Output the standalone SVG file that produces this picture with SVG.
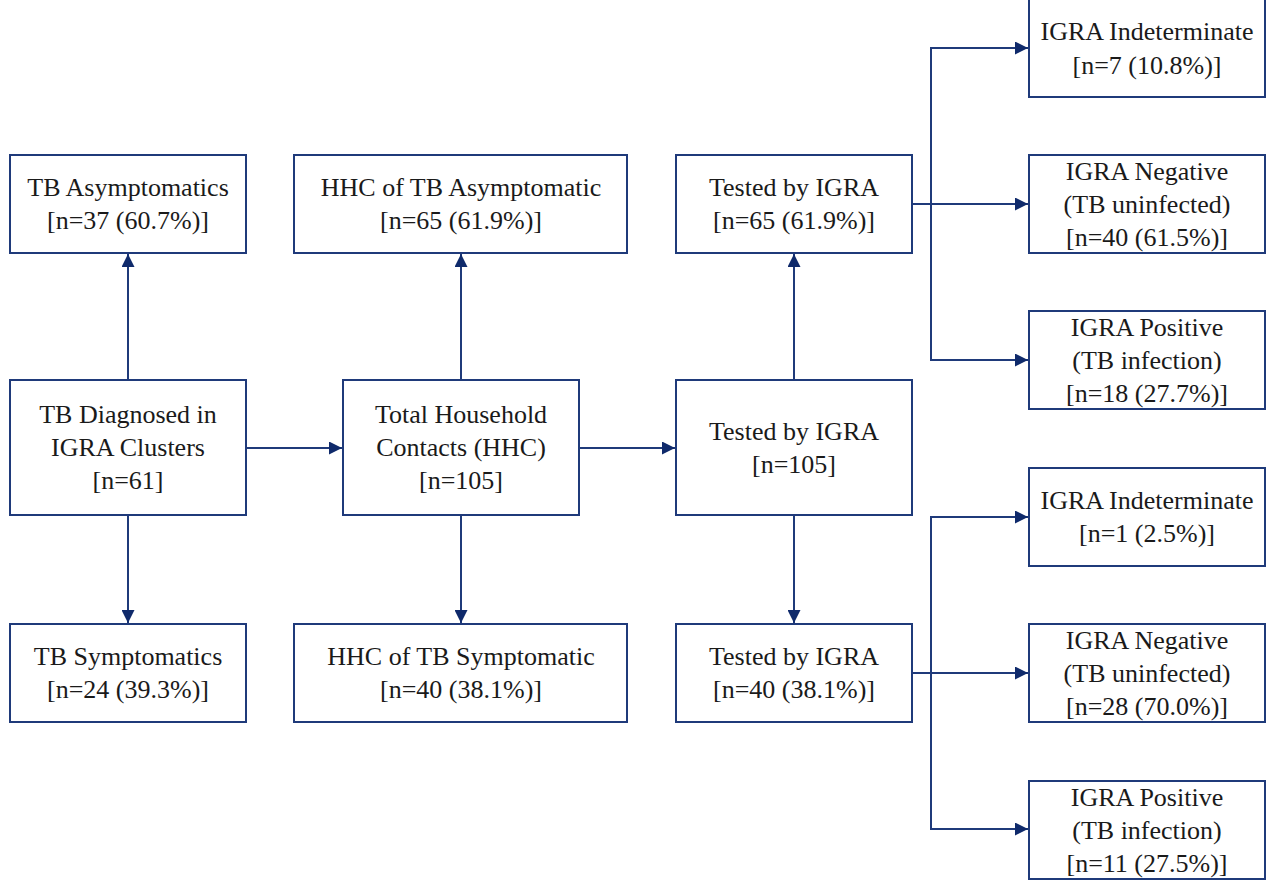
<svg xmlns="http://www.w3.org/2000/svg" width="1275" height="888" viewBox="0 0 1275 888">
<defs>
<style>
.box{fill:#fff;stroke:#1f3a7a;stroke-width:2}
text{font-family:'Liberation Serif','Times New Roman','DejaVu Serif',serif;font-size:26px;fill:#1a1a1a;text-anchor:middle}
.c{fill:none;stroke:#1f3a7a;stroke-width:2}
</style>
<marker id="ah" viewBox="0 0 10 10" refX="10" refY="5" markerWidth="13" markerHeight="13" markerUnits="userSpaceOnUse" orient="auto">
<path d="M0,0 L10,5 L0,10 z" fill="#0f2a6b"/>
</marker>
</defs>
<rect width="1275" height="888" fill="#fff"/>
<g id="connectors">
<path class="c" d="M128,380 V254" marker-end="url(#ah)"/>
<path class="c" d="M128,515 V623" marker-end="url(#ah)"/>
<path class="c" d="M246,448 H342" marker-end="url(#ah)"/>
<path class="c" d="M461,380 V254" marker-end="url(#ah)"/>
<path class="c" d="M461,515 V623" marker-end="url(#ah)"/>
<path class="c" d="M579,448 H675" marker-end="url(#ah)"/>
<path class="c" d="M794,380 V254" marker-end="url(#ah)"/>
<path class="c" d="M794,515 V623" marker-end="url(#ah)"/>
<path class="c" d="M912,204 H1028" marker-end="url(#ah)"/>
<path class="c" d="M1028,48 H931 V360 H1028" marker-end="url(#ah)"/>
<path class="c" d="M931,48 H1028" marker-end="url(#ah)"/>
<path class="c" d="M912,673 H1028" marker-end="url(#ah)"/>
<path class="c" d="M1028,517 H931 V829 H1028" marker-end="url(#ah)"/>
<path class="c" d="M931,517 H1028" marker-end="url(#ah)"/>
</g>
<g id="tb-asym"><rect class="box" x="10" y="155" width="236" height="98"/><text x="128" y="196">TB Asymptomatics</text><text x="128" y="229">[n=37 (60.7%)]</text></g>
<g id="tb-diag"><rect class="box" x="10" y="380" width="236" height="135"/><text x="128" y="423">TB Diagnosed in</text><text x="128" y="456">IGRA Clusters</text><text x="128" y="489">[n=61]</text></g>
<g id="tb-sym"><rect class="box" x="10" y="624" width="236" height="98"/><text x="128" y="665">TB Symptomatics</text><text x="128" y="698">[n=24 (39.3%)]</text></g>
<g id="hhc-asym"><rect class="box" x="294" y="155" width="333" height="98"/><text x="461" y="196">HHC of TB Asymptomatic</text><text x="461" y="229">[n=65 (61.9%)]</text></g>
<g id="hhc-total"><rect class="box" x="343" y="380" width="236" height="135"/><text x="461" y="423">Total Household</text><text x="461" y="456">Contacts (HHC)</text><text x="461" y="489">[n=105]</text></g>
<g id="hhc-sym"><rect class="box" x="294" y="624" width="333" height="98"/><text x="461" y="665">HHC of TB Symptomatic</text><text x="461" y="698">[n=40 (38.1%)]</text></g>
<g id="igra-asym"><rect class="box" x="676" y="155" width="236" height="98"/><text x="794" y="196">Tested by IGRA</text><text x="794" y="229">[n=65 (61.9%)]</text></g>
<g id="igra-total"><rect class="box" x="676" y="380" width="236" height="135"/><text x="794" y="440">Tested by IGRA</text><text x="794" y="473">[n=105]</text></g>
<g id="igra-sym"><rect class="box" x="676" y="624" width="236" height="98"/><text x="794" y="665">Tested by IGRA</text><text x="794" y="698">[n=40 (38.1%)]</text></g>
<g id="a-ind"><rect class="box" x="1029" y="-2" width="236" height="99"/><text x="1147" y="40">IGRA Indeterminate</text><text x="1147" y="74">[n=7 (10.8%)]</text></g>
<g id="a-neg"><rect class="box" x="1029" y="155" width="236" height="98"/><text x="1147" y="180">IGRA Negative</text><text x="1147" y="213">(TB uninfected)</text><text x="1147" y="246">[n=40 (61.5%)]</text></g>
<g id="a-pos"><rect class="box" x="1029" y="311" width="236" height="98"/><text x="1147" y="336">IGRA Positive</text><text x="1147" y="369">(TB infection)</text><text x="1147" y="402">[n=18 (27.7%)]</text></g>
<g id="s-ind"><rect class="box" x="1029" y="468" width="236" height="98"/><text x="1147" y="509">IGRA Indeterminate</text><text x="1147" y="542">[n=1 (2.5%)]</text></g>
<g id="s-neg"><rect class="box" x="1029" y="624" width="236" height="98"/><text x="1147" y="649">IGRA Negative</text><text x="1147" y="682">(TB uninfected)</text><text x="1147" y="715">[n=28 (70.0%)]</text></g>
<g id="s-pos"><rect class="box" x="1029" y="781" width="236" height="98"/><text x="1147" y="806">IGRA Positive</text><text x="1147" y="839">(TB infection)</text><text x="1147" y="872">[n=11 (27.5%)]</text></g>
</svg>
